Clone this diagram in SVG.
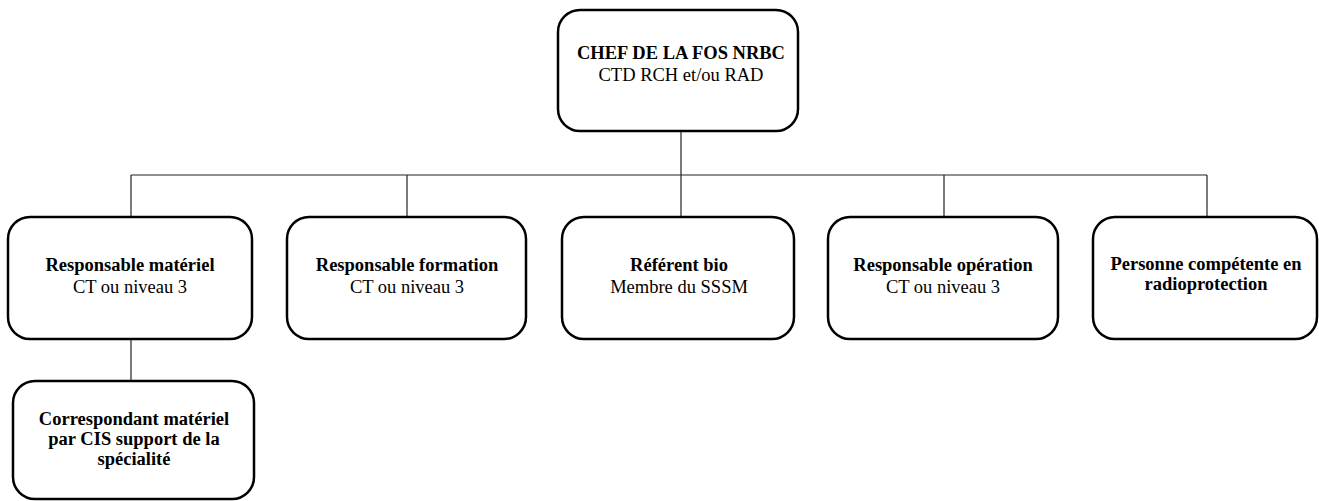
<svg xmlns="http://www.w3.org/2000/svg" width="1319" height="501" viewBox="0 0 1319 501">
<style>
.box{fill:#fff;stroke:#000;stroke-width:2.5}
.conn{fill:none;stroke:#222;stroke-width:1.2}
text{font-family:"Liberation Serif","Times New Roman",serif;font-size:18.5px;fill:#000;text-anchor:middle}
.b{font-weight:bold}
</style>
<rect width="1319" height="501" fill="#fff"/>
<g id="connectors">
<line class="conn" x1="681" y1="131" x2="681" y2="175"/>
<line class="conn" x1="131" y1="175" x2="1207" y2="175"/>
<line class="conn" x1="131" y1="175" x2="131" y2="217"/>
<line class="conn" x1="407" y1="175" x2="407" y2="217"/>
<line class="conn" x1="681" y1="175" x2="681" y2="217"/>
<line class="conn" x1="944" y1="175" x2="944" y2="217"/>
<line class="conn" x1="1207" y1="175" x2="1207" y2="217"/>
<line class="conn" x1="131" y1="339" x2="131" y2="381"/>
</g>
<g id="chef">
<rect class="box" x="558" y="10" width="240" height="121" rx="22"/>
<text x="681" y="59" class="b">CHEF DE LA FOS NRBC</text>
<text x="681" y="81">CTD RCH et/ou RAD</text>
</g>
<g id="materiel">
<rect class="box" x="8" y="217" width="244" height="122" rx="22"/>
<text x="130" y="271" class="b">Responsable matériel</text>
<text x="130" y="293">CT ou niveau 3</text>
</g>
<g id="formation">
<rect class="box" x="287" y="217" width="239" height="122" rx="22"/>
<text x="407" y="271" class="b">Responsable formation</text>
<text x="407" y="293">CT ou niveau 3</text>
</g>
<g id="bio">
<rect class="box" x="562" y="217" width="232" height="122" rx="22"/>
<text x="679" y="271" class="b">Référent bio</text>
<text x="679" y="293">Membre du SSSM</text>
</g>
<g id="operation">
<rect class="box" x="828" y="217" width="230" height="122" rx="22"/>
<text x="943" y="271" class="b">Responsable opération</text>
<text x="943" y="293">CT ou niveau 3</text>
</g>
<g id="radioprotection">
<rect class="box" x="1093" y="217" width="224" height="122" rx="22"/>
<text x="1206" y="270" class="b">Personne compétente en</text>
<text x="1206" y="290" class="b">radioprotection</text>
</g>
<g id="correspondant">
<rect class="box" x="13" y="381" width="241" height="118" rx="22"/>
<text x="134" y="425" class="b">Correspondant matériel</text>
<text x="134" y="445" class="b">par CIS support de la</text>
<text x="134" y="465" class="b">spécialité</text>
</g>
</svg>
